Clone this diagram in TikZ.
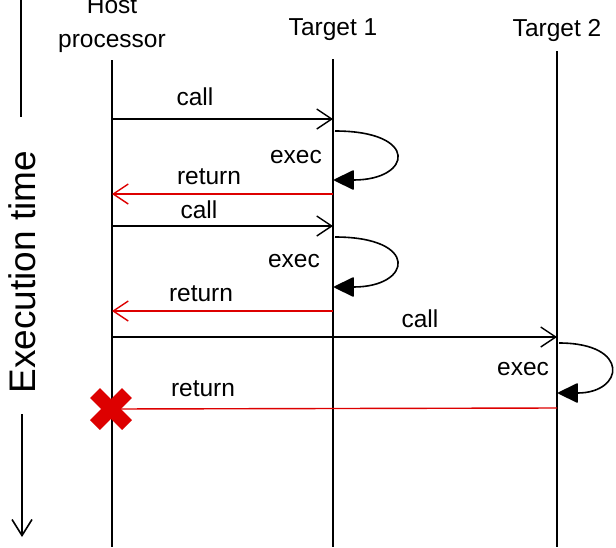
\documentclass[tikz,border=0pt]{standalone}
\usepackage{fontspec}
\setmainfont{Liberation Sans}
\usetikzlibrary{arrows.meta,calc}
\definecolor{retred}{RGB}{221,0,0}
\tikzset{
  lifeline/.style={line width=1.8pt, black},
  callarrow/.style={line width=1.4pt, black, -{Straight Barb[length=15pt,width=20pt,line width=1.4pt]}},
  retarrow/.style={line width=1.4pt, retred, -{Straight Barb[length=15pt,width=20pt,line width=1.4pt]}},
  retline/.style={line width=1.4pt, retred},
  execloop/.style={line width=1.6pt, black, -{Triangle[length=21pt,width=20pt,round]}},
  lbl/.style={font=\fontsize{24.5}{28}\selectfont, inner sep=0pt},
  hdr/.style={font=\fontsize{24.5}{34}\selectfont, inner sep=0pt, align=center},
  xmark/.style={line width=14pt, retred},
}
\begin{document}
\begin{tikzpicture}[x=1pt,y=-1pt]
\useasboundingbox (0,0) rectangle (616,547);
% headers
\node[hdr] (hosthdr) at (112,25) {Host\\processor};
\node[hdr] (t1hdr) at (333,30) {Target 1};
\node[hdr] (t2hdr) at (557,30) {Target 2};
% lifelines
\coordinate (hTop) at (112,60); \coordinate (hBot) at (112,547);
\coordinate (aTop) at (333,59); \coordinate (aBot) at (333,547);
\coordinate (bTop) at (557,51); \coordinate (bBot) at (557,547);
\draw[lifeline] (hTop) -- (hBot);
\draw[lifeline] (aTop) -- (aBot);
\draw[lifeline] (bTop) -- (bBot);
% time axis
\coordinate (axTop) at (21,0); \coordinate (axTopEnd) at (21,117);
\coordinate (axBotStart) at (22,414); \coordinate (axBot) at (22,537);
\draw[line width=1.6pt] (axTop) -- (axTopEnd);
\draw[line width=1.6pt, -{Straight Barb[length=16pt,width=20pt,line width=1.6pt]}] (axBotStart) -- (axBot);
\node[font=\fontsize{37}{40}\selectfont, rotate=90, inner sep=0pt] (exectime) at (22,272) {Execution time};
% message 1
\coordinate (c1s) at (112,119); \coordinate (c1e) at (333,119);
\draw[callarrow] (c1s) -- (c1e);
\node[lbl] (c1l) at (195,97) {call};
\coordinate (e1s) at (335,131); \coordinate (e1e) at (334,180);
\draw[execloop] (e1s) .. controls +(85,0) and +(78,0) .. (e1e);
\node[lbl] (e1l) at (296,157) {exec};
\coordinate (r1s) at (333,194); \coordinate (r1e) at (112,194);
\draw[retarrow] (r1s) -- (r1e);
\node[lbl] (r1l) at (209,177) {return};
% message 2
\coordinate (c2s) at (112,226); \coordinate (c2e) at (333,226);
\draw[callarrow] (c2s) -- (c2e);
\node[lbl] (c2l) at (199,210) {call};
\coordinate (e2s) at (335,237); \coordinate (e2e) at (334,287);
\draw[execloop] (e2s) .. controls +(85,0) and +(78,0) .. (e2e);
\node[lbl] (e2l) at (294,261) {exec};
\coordinate (r2s) at (333,311); \coordinate (r2e) at (112,311);
\draw[retarrow] (r2s) -- (r2e);
\node[lbl] (r2l) at (201,294) {return};
% message 3
\coordinate (c3s) at (112,337); \coordinate (c3e) at (557,337);
\draw[callarrow] (c3s) -- (c3e);
\node[lbl] (c3l) at (420,319) {call};
\coordinate (e3s) at (559,343); \coordinate (e3e) at (558,393);
\draw[execloop] (e3s) .. controls +(72,0) and +(66,0) .. (e3e);
\node[lbl] (e3l) at (523,369) {exec};
\coordinate (r3s) at (557,408); \coordinate (xc) at (111,409);
\draw[retline] (r3s) -- (xc);
\node[lbl] (r3l) at (203,389) {return};
% failure mark
\draw[xmark] ($(xc)+(-16,-16)$) -- ($(xc)+(16,16)$);
\draw[xmark] ($(xc)+(-16,16)$) -- ($(xc)+(16,-16)$);
\end{tikzpicture}
\end{document}
